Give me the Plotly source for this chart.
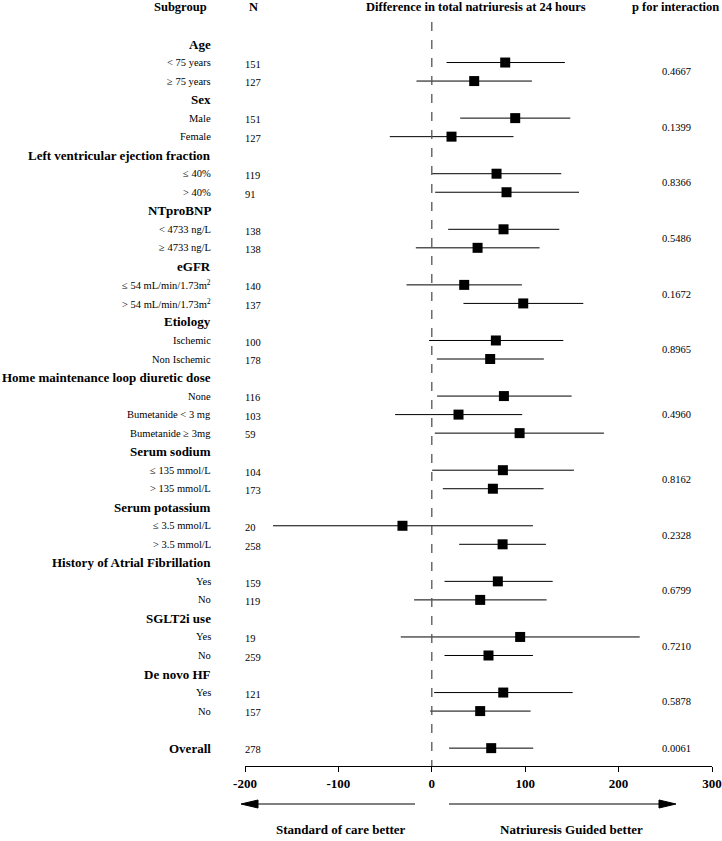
import plotly.graph_objects as go

# subgroup data
group_names = [
    "Age", "Sex", "Left ventricular ejection fraction", "NTproBNP", "eGFR",
    "Etiology", "Home maintenance loop diuretic dose", "Serum sodium",
    "Serum potassium", "History of Atrial Fibrillation", "SGLT2i use", "De novo HF",
]
group_sizes = [2, 2, 2, 2, 2, 2, 3, 2, 2, 2, 2, 2]
item_labels = [
    "< 75 years", "≥ 75 years",
    "Male", "Female",
    "≤ 40%", "> 40%",
    "< 4733 ng/L", "≥ 4733 ng/L",
    "≤ 54 mL/min/1.73m<sup>2</sup>", "> 54 mL/min/1.73m<sup>2</sup>",
    "Ischemic", "Non Ischemic",
    "None", "Bumetanide < 3 mg", "Bumetanide ≥ 3mg",
    "≤ 135 mmol/L", "> 135 mmol/L",
    "≤ 3.5 mmol/L", "> 3.5 mmol/L",
    "Yes", "No",
    "Yes", "No",
    "Yes", "No",
]
n_values = [151, 127, 151, 127, 119, 91, 138, 138, 140, 137, 100, 178,
            116, 103, 59, 104, 173, 20, 258, 159, 119, 19, 259, 121, 157]
estimates = [78.6, 45.4, 89.3, 21.1, 69.3, 80.0, 76.8, 49.0, 34.7, 97.9, 68.6, 62.5,
             77.2, 28.6, 94.0, 76.1, 65.4, -31.4, 75.8, 70.7, 51.8, 94.6, 60.7, 76.5, 51.8]
ci_low = [15.8, -16.4, 30.4, -45.0, 0.4, 3.6, 17.5, -17.1, -27.1, 33.9, -2.9, 5.4,
          5.7, -39.3, 3.2, 0.4, 11.8, -170.0, 29.3, 13.6, -19.0, -33.2, 13.6, 2.5, -1.8]
ci_high = [142.5, 107.2, 148.3, 87.5, 138.6, 157.6, 136.5, 115.4, 96.5, 162.2, 140.8, 120.0,
           149.7, 96.8, 184.3, 152.2, 119.7, 108.3, 122.2, 129.4, 122.9, 222.6, 108.3, 150.8, 105.8]
p_interaction = ["0.4667", "0.1399", "0.8366", "0.5486", "0.1672", "0.8965",
                 "0.4960", "0.8162", "0.2328", "0.6799", "0.7210", "0.5878"]

overall_label = "Overall"
overall_n = 278
overall_est = 63.6
overall_low = 18.5
overall_high = 108.6
overall_p = "0.0061"

x_ticks = [-200, -100, 0, 100, 200, 300]

W, H = 722, 841
SERIF = "Liberation Serif, Times New Roman, serif"

# row layout: header row, then items, for each group; a blank row before overall
header_rows, item_rows, p_rows = [], [], []
row = 0
for size in group_sizes:
    header_rows.append(row)
    rows = list(range(row + 1, row + 1 + size))
    item_rows += rows
    p_rows.append(sum(rows) / len(rows))
    row += size + 1
overall_row = row + 1

fig = go.Figure()
fig.add_trace(go.Scatter(
    x=estimates + [overall_est],
    y=item_rows + [overall_row],
    mode="markers",
    marker={"symbol": "square", "size": 10, "color": "black"},
    error_x={
        "type": "data", "symmetric": False,
        "array": [h - e for h, e in zip(ci_high + [overall_high], estimates + [overall_est])],
        "arrayminus": [e - l for e, l in zip(estimates + [overall_est], ci_low + [overall_low])],
        "width": 0, "thickness": 1, "color": "black",
    },
    cliponaxis=False,
    showlegend=False,
    hoverinfo="skip",
))

annotations = []


def label(text, x, y, size=11, bold=False, anchor="right", yref="y"):
    annotations.append({
        "text": f"<b>{text}</b>" if bold else text,
        "x": x / W, "xref": "paper", "y": y, "yref": yref,
        "xanchor": anchor, "yanchor": "middle", "showarrow": False,
        "font": {"family": SERIF, "size": size, "color": "black"},
    })


for name, r in zip(group_names, header_rows):
    label(name, 213, r, size=13, bold=True)
for text, n, r in zip(item_labels, n_values, item_rows):
    label(text, 213, r, size=10.5)
    label(str(n), 243, r + 0.1, size=10.5, anchor="left")
for p, r in zip(p_interaction, p_rows):
    label(p, 676, r, size=10.5, anchor="center")
label(overall_label, 213, overall_row, size=13, bold=True)
label(str(overall_n), 243, overall_row + 0.1, size=10.5, anchor="left")
label(overall_p, 676, overall_row, size=10.5, anchor="center")

# column headers
top = 1 - 7 / H
label("Subgroup", 209, top, size=12.5, bold=True, yref="paper")
label("N", 253, top, size=12.5, bold=True, anchor="center", yref="paper")
label("Difference in total natriuresis at 24 hours", 476, top, size=12.5, bold=True,
      anchor="center", yref="paper")
label("p for interaction", 675, top, size=12.5, bold=True, anchor="center", yref="paper")

# bottom direction labels
label("Standard of care better", 341, 1 - 829 / H, size=13, bold=True, anchor="center", yref="paper")
label("Natriuresis Guided better", 571, 1 - 829 / H, size=13, bold=True, anchor="center", yref="paper")

# layout: row r sits at 44 + 18.53*r px, axis line at 766 px
row_px = 18.53
axis_px = 766
y_top = -44 / row_px
y_bottom = (axis_px - 44) / row_px

shapes = [{
    "type": "line", "x0": 0, "x1": 0, "xref": "x",
    "y0": 1 - 22 / H, "y1": 1 - axis_px / H, "yref": "paper",
    "line": {"color": "#555555", "width": 1.3, "dash": "dash"},
}]

# direction arrows: shaft plus filled head (tip, base) in pixels
arrow_y = 1 - 804 / H
half = 4 / H
for tip, base, tail in [(241, 258, 415), (676, 659, 449)]:
    shapes.append({
        "type": "line", "xref": "paper", "yref": "paper",
        "x0": base / W, "x1": tail / W, "y0": arrow_y, "y1": arrow_y,
        "line": {"color": "black", "width": 1},
    })
    shapes.append({
        "type": "path", "xref": "paper", "yref": "paper",
        "path": f"M {tip / W},{arrow_y} L {base / W},{arrow_y + half} L {base / W},{arrow_y - half} Z",
        "fillcolor": "black", "line": {"color": "black", "width": 1},
    })

fig.update_layout(
    width=W, height=H,
    margin={"l": 0, "r": 0, "t": 0, "b": 0},
    paper_bgcolor="white", plot_bgcolor="white",
    annotations=annotations,
    shapes=shapes,
    xaxis={
        "domain": [245 / W, 712 / W], "range": [-200, 300],
        "tickvals": x_ticks, "ticktext": [f"<b>{t}</b>" for t in x_ticks],
        "showline": True, "linecolor": "black", "linewidth": 1,
        "ticks": "outside", "ticklen": 5, "tickcolor": "black",
        "showgrid": False, "zeroline": False, "automargin": False,
        "tickfont": {"family": SERIF, "size": 13, "color": "black"},
    },
    yaxis={
        "domain": [1 - axis_px / H, 1], "range": [y_bottom, y_top],
        "visible": False, "showgrid": False, "zeroline": False, "automargin": False,
    },
)

# page body has a default margin and may grow scrollbars; remove both
fig.write_html(
    "out.html",
    config={"displayModeBar": False},
    post_script="document.body.style.margin = '0'; document.body.style.overflow = 'hidden';",
)
